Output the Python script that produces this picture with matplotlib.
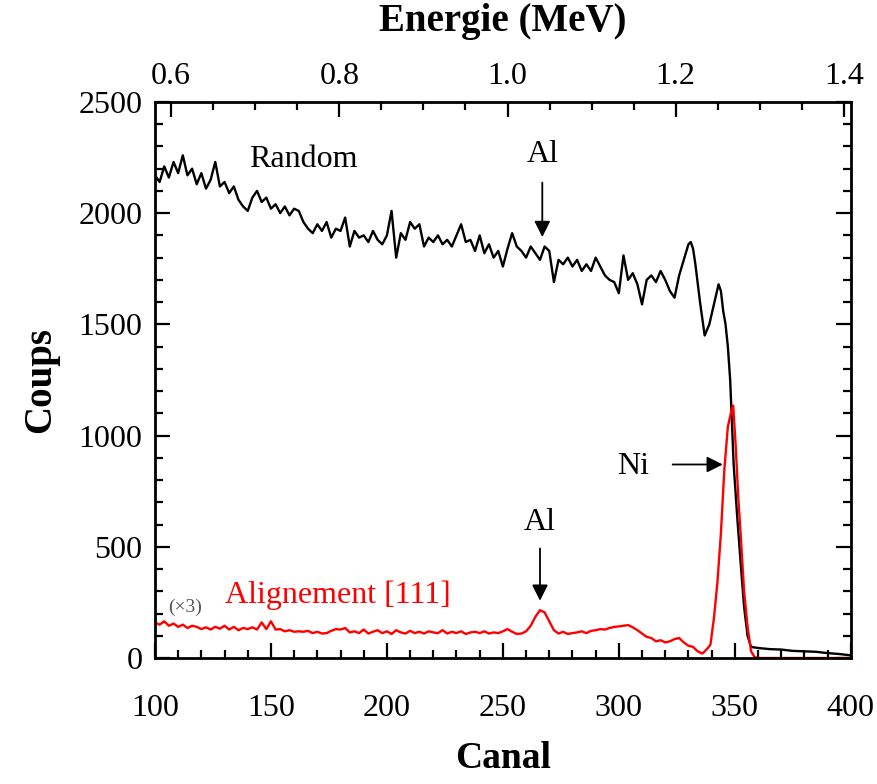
import numpy as np
import matplotlib
matplotlib.use("Agg")
import matplotlib.pyplot as plt
from matplotlib.ticker import MultipleLocator

plt.rcParams['font.family'] = ['Liberation Serif', 'DejaVu Serif']

# spectre "Random" (noir)
random_canal = list(range(100, 328, 2)) + [
    328, 330, 331, 332, 333, 335, 337, 339, 341, 343, 344, 345, 346, 347,
    348, 348.7, 349.5, 351, 352.5, 354, 355.5, 357, 360, 365, 370, 375,
    380, 385, 390, 395, 400]
random_coups = [
    2170, 2140, 2210, 2160, 2230, 2180, 2260, 2170, 2200, 2130,
    2180, 2110, 2150, 2230, 2120, 2140, 2090, 2120, 2060, 2030,
    2010, 2070, 2100, 2050, 2070, 2020, 2040, 2000, 2030, 1990,
    2020, 2010, 1960, 1930, 1910, 1950, 1920, 1960, 1890, 1930,
    1920, 1980, 1850, 1920, 1890, 1900, 1870, 1920, 1880, 1860,
    1900, 2010, 1800, 1910, 1880, 1960, 1930, 1950, 1850, 1890,
    1870, 1900, 1860, 1880, 1850, 1900, 1950, 1870, 1880, 1830,
    1900, 1820, 1860, 1800, 1830, 1760, 1840, 1910, 1850, 1830,
    1800, 1850, 1820, 1790, 1850, 1830, 1690, 1790, 1770, 1800,
    1760, 1790, 1740, 1770, 1740, 1800, 1760, 1720, 1700, 1690,
    1640, 1810, 1700, 1730, 1680, 1590, 1700, 1720, 1690, 1740,
    1700, 1650, 1620, 1720,
    1790, 1860, 1870, 1840, 1770, 1600, 1450, 1500, 1590, 1680, 1650,
    1560, 1500, 1400, 1250, 1070, 870, 640, 430, 230, 100, 50, 45, 40,
    38, 32, 30, 28, 22, 18, 12]

# spectre aligne [111] (rouge, x3)
align_canal = list(range(100, 340, 2)) + [
    339.5, 341, 342.5, 344, 345.5, 347, 348.5, 349.3, 350.4, 351.5,
    352.5, 354, 355.5, 357, 358.5, 360, 380, 400]
align_coups = [
    160, 150, 165, 145, 155, 140, 150, 135, 145, 140,
    130, 138, 128, 140, 132, 145, 128, 140, 125, 135,
    130, 138, 128, 160, 130, 165, 128, 130, 120, 125,
    118, 120, 118, 122, 112, 118, 110, 112, 122, 130,
    128, 135, 115, 120, 112, 128, 110, 118, 125, 112,
    120, 108, 125, 115, 110, 122, 112, 118, 110, 120,
    115, 112, 125, 110, 118, 112, 120, 108, 115, 118,
    112, 120, 110, 115, 112, 120, 130, 118, 108, 110,
    120, 145, 185, 215, 205, 165, 125, 110, 118, 108,
    112, 115, 120, 112, 122, 125, 130, 128, 135, 140,
    142, 145, 148, 138, 125, 110, 95, 90, 75, 80,
    70, 75, 85, 90, 70, 55, 50, 30, 20, 40,
    60, 180, 340, 560, 850, 1040, 1110, 1135, 950, 720,
    560, 300, 140, 30, 5, 0, 0, 0]

energie_ticks = [0.6, 0.8, 1.0, 1.2, 1.4]


def canal_to_mev(c):
    return 0.6 + (np.asarray(c) - 107.0) * 0.8 / 290.0


def mev_to_canal(e):
    return 107.0 + (np.asarray(e) - 0.6) * 290.0 / 0.8


fig = plt.figure(figsize=(8.78, 7.84), dpi=100)
ax = fig.add_axes([0.1765, 0.1607, 0.7925, 0.7093])

ax.plot(random_canal, random_coups, color='black', lw=1.7)
ax.plot(align_canal, align_coups, color='red', lw=1.7)

ax.set_xlim(100, 400)
ax.set_ylim(0, 2500)
ax.xaxis.set_major_locator(MultipleLocator(50))
ax.xaxis.set_minor_locator(MultipleLocator(10))
ax.yaxis.set_major_locator(MultipleLocator(500))
ax.yaxis.set_minor_locator(MultipleLocator(100))
ax.tick_params(which='both', direction='in', width=1.6, labelsize=23,
               top=False, right=True)
ax.tick_params(which='major', length=11)
ax.tick_params(axis='x', which='major', pad=26)
ax.tick_params(axis='y', which='major', pad=9)
ax.tick_params(which='minor', length=6)
for s in ax.spines.values():
    s.set_linewidth(2)

ax.set_xlabel('Canal', fontsize=27, fontweight='bold', labelpad=13)
ax.set_ylabel('Coups', fontsize=28, fontweight='bold', labelpad=14)

top = ax.secondary_xaxis('top', functions=(canal_to_mev, mev_to_canal))
top.set_xticks(energie_ticks)
top.xaxis.set_minor_locator(MultipleLocator(0.05))
top.set_xticklabels([f'{e:.1f}' for e in energie_ticks])
top.tick_params(which='both', direction='in', width=1.6, labelsize=23)
top.tick_params(which='major', length=11, pad=8)
top.tick_params(which='minor', length=6)
top.set_xlabel('Energie (MeV)', fontsize=28, fontweight='bold', labelpad=22)

# annotations
ax.text(164, 2240, 'Random', fontsize=23, ha='center', va='center')
ax.text(267, 2265, 'Al', fontsize=23, ha='center', va='center')
ax.annotate('', xy=(267, 1880), xytext=(267, 2150),
            arrowprops=dict(arrowstyle='-|>', color='black', lw=1.3,
                            mutation_scale=24))
ax.text(306, 863, 'Ni', fontsize=23, ha='center', va='center')
ax.annotate('', xy=(346, 870), xytext=(322, 870),
            arrowprops=dict(arrowstyle='-|>', color='black', lw=1.3,
                            mutation_scale=24))
ax.text(266, 610, 'Al', fontsize=23, ha='center', va='center')
ax.annotate('', xy=(266, 245), xytext=(266, 505),
            arrowprops=dict(arrowstyle='-|>', color='black', lw=1.3,
                            mutation_scale=24))
ax.text(130, 283, 'Alignement [111]', fontsize=23, color='red',
        ha='left', va='center')
ax.text(113, 228, '(×3)', fontsize=14, color='#555555',
        ha='center', va='center')

fig.savefig('out.png', dpi=100)
